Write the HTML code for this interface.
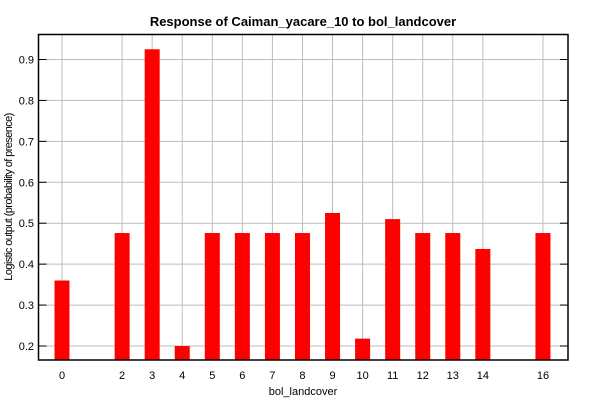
<!DOCTYPE html>
<html><head><meta charset="utf-8"><style>
html,body{margin:0;padding:0;background:#fff;}
svg{display:block;font-family:"Liberation Sans","DejaVu Sans",sans-serif;}
</style></head><body>
<svg id="chart" width="600" height="400"></svg>
<script>
const categories = [0,2,3,4,5,6,7,8,9,10,11,12,13,14,16];
const values = [0.36,0.476,0.925,0.2,0.476,0.476,0.476,0.476,0.525,0.218,0.51,0.476,0.476,0.437,0.476];
const yTicks = [0.2,0.3,0.4,0.5,0.6,0.7,0.8,0.9];
const yTickLabels = ["0.2","0.3","0.4","0.5","0.6","0.7","0.8","0.9"];

const L=38.5,R=568,T=34.5,B=360;
const yMin=0.2-(346-B)/-409.3*0+0.2-0.2; // placeholder
function y(v){return 346-(v-0.2)*409.3;}
function x(c){return 62+c*30.06;}
const NS="http://www.w3.org/2000/svg";
const svg=document.getElementById('chart');
function mk(tag,attrs,parent){const e=document.createElementNS(NS,tag);for(const k in attrs)e.setAttribute(k,attrs[k]);(parent||svg).appendChild(e);return e;}

const grid=mk('g',{});


yTicks.forEach(t=>{mk('line',{x1:L,x2:R,y1:y(t),y2:y(t),stroke:'#bebebe','stroke-width':1},grid);});
categories.forEach(c=>{mk('line',{x1:x(c),x2:x(c),y1:T,y2:B,stroke:'#bebebe','stroke-width':1},grid);});

const bars=mk('g',{});


categories.forEach((c,i)=>{
  const top=y(values[i]);
  const r=mk('rect',{x:x(c)-7.5,y:top,width:15,height:B-top,fill:'#ff0000'},bars);
  
  
});

const frame=mk('rect',{x:L,y:T,width:R-L,height:B-T,fill:'none',stroke:'#000','stroke-width':1.5});



yTicks.forEach((t,i)=>{
  mk('line',{x1:L,x2:L+8,y1:y(t),y2:y(t),stroke:'#000'});
  mk('line',{x1:R-8,x2:R,y1:y(t),y2:y(t),stroke:'#000'});
  const tx=mk('text',{x:34,y:y(t)+4,'text-anchor':'end','font-size':11,fill:'#000'});
  tx.textContent=yTickLabels[i];
  
  
});
categories.forEach(c=>{
  const tx=mk('text',{x:x(c),y:379,'text-anchor':'middle','font-size':11,fill:'#000'});
  tx.textContent=String(c);
  
  
});

const title=mk('text',{x:303,y:26,'text-anchor':'middle','font-size':13,'font-weight':'bold',fill:'#000'});
title.textContent='Response of Caiman_yacare_10 to bol_landcover';



const xt=mk('text',{x:303,y:395,'text-anchor':'middle','font-size':11,fill:'#000'});
xt.textContent='bol_landcover';



const yt=mk('text',{x:0,y:0,'text-anchor':'middle','font-size':11,fill:'#000','letter-spacing':'-0.6',transform:'translate(12,197) rotate(-90)'});
yt.textContent='Logistic output (probability of presence)';


</script>
</body></html>
